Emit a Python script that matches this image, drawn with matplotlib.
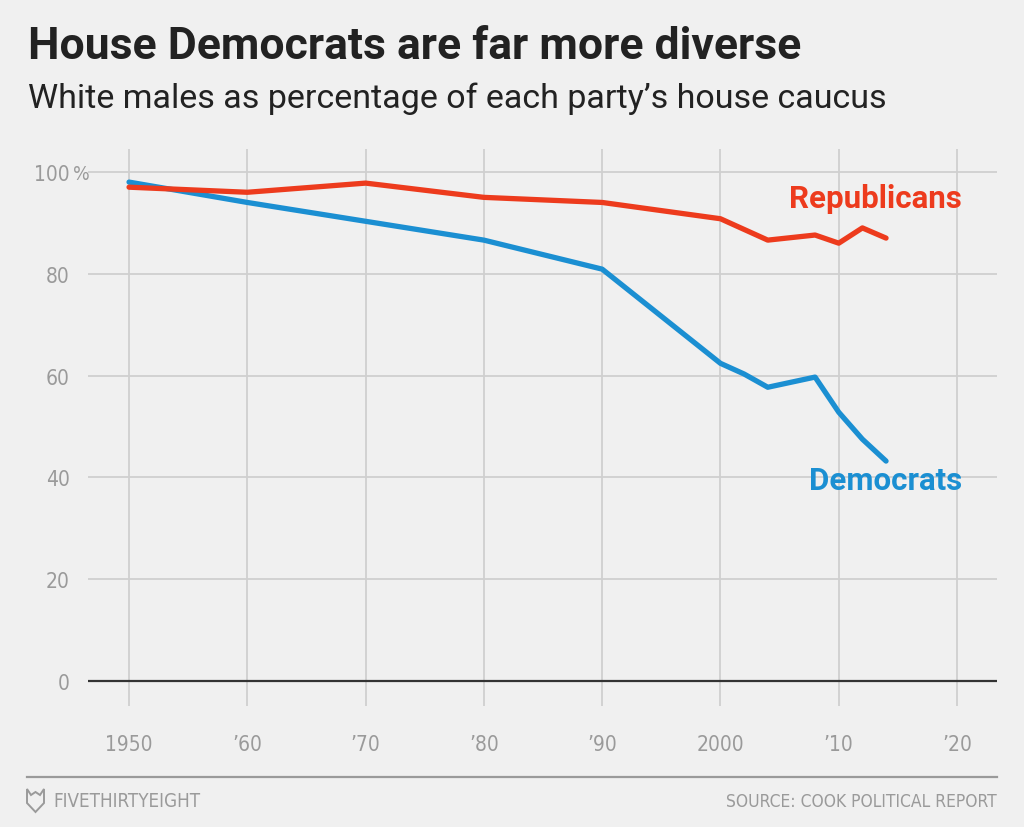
import matplotlib.pyplot as plt
from matplotlib.lines import Line2D
from matplotlib.patches import Polygon

# data
rep_years = [1950, 1960, 1970, 1980, 1990, 2000, 2004, 2008, 2010, 2012, 2014]
rep_share = [97.0, 96.0, 97.8, 95.0, 94.0, 90.8, 86.6, 87.6, 86.0, 89.0, 87.0]

dem_years = [1950, 1960, 1970, 1980, 1990, 2000, 2002, 2004, 2008, 2010, 2012, 2014]
dem_share = [98.0, 94.0, 90.3, 86.6, 80.9, 62.4, 60.3, 57.7, 59.7, 52.8, 47.5, 43.2]

x_ticks = [1950, 1960, 1970, 1980, 1990, 2000, 2010, 2020]
x_labels = ['1950', "\u201960", "\u201970", "\u201980", "\u201990", '2000', "\u201910", "\u201920"]
y_ticks = [0, 20, 40, 60, 80, 100]
y_labels = ['0', '20', '40', '60', '80', '100']

bg = '#f0f0f0'
red = '#ed3b1d'
blue = '#1b8fd2'
tick_font = dict(family='DejaVu Sans', stretch='condensed', color='#9a9a9a')

fig = plt.figure(figsize=(10.24, 8.28), dpi=100, facecolor=bg)
ax = fig.add_axes([88 / 1024, 1 - 707 / 828, (997 - 88) / 1024, (707 - 150) / 828])
ax.set_facecolor(bg)

ax.set_xlim(1946.53, 2023.38)
ax.set_ylim(-4.91, 104.5)

for x in x_ticks:
    ax.axvline(x, color='#cfcfcf', lw=1.3, zorder=1)
for y in y_ticks[1:]:
    ax.axhline(y, color='#cfcfcf', lw=1.3, zorder=1)
ax.axhline(0, color='#333333', lw=1.6, zorder=2)

ax.plot(dem_years, dem_share, color=blue, lw=3.8, solid_capstyle='round', solid_joinstyle='round', zorder=3)
ax.plot(rep_years, rep_share, color=red, lw=3.8, solid_capstyle='round', solid_joinstyle='round', zorder=4)

ax.set_xticks(x_ticks)
ax.set_xticklabels(x_labels, fontsize=15, **tick_font)
ax.set_yticks(y_ticks)
ax.set_yticklabels(y_labels, fontsize=15, **tick_font)
ax.tick_params(axis='x', length=0, pad=20)
ax.tick_params(axis='y', length=0, pad=13)
for s in ax.spines.values():
    s.set_visible(False)

fig.text(73 / 1024, 1 - 174 / 828, '%', fontsize=14, va='center', ha='left', **tick_font)

ax.text(2020.4, 94.9, 'Republicans', color=red, fontsize=22.5, fontweight='bold',
        family='Roboto', ha='right', va='center')
ax.text(2020.4, 39.5, 'Democrats', color=blue, fontsize=22.5, fontweight='bold',
        family='Roboto', ha='right', va='center')

fig.text(28 / 1024, 1 - 47 / 828, 'House Democrats are far more diverse', fontsize=32,
         fontweight='bold', family='Roboto', color='#222222', va='center', ha='left')
fig.text(28 / 1024, 1 - 99 / 828, 'White males as percentage of each party\u2019s house caucus',
         fontsize=24.5, family='Roboto', color='#222222', va='center', ha='left')

# footer
fig.add_artist(Line2D([27 / 1024, 997 / 1024], [1 - 778 / 828, 1 - 778 / 828],
                      color='#9a9a9a', lw=1.6, transform=fig.transFigure))
fox = [(27, 790), (31, 796), (35.5, 793), (40, 796), (44, 790), (44, 804), (35.5, 813), (27, 804)]
fig.add_artist(Polygon([(x / 1024, 1 - y / 828) for x, y in fox], closed=True,
                       fill=False, edgecolor='#9a9a9a', lw=1.4, transform=fig.transFigure))
fig.text(53 / 1024, 1 - 802 / 828, 'FIVETHIRTYEIGHT', fontsize=13.5, va='center', ha='left', **tick_font)
fig.text(997 / 1024, 1 - 802 / 828, 'SOURCE: COOK POLITICAL REPORT', fontsize=12.5,
         va='center', ha='right', **tick_font)

fig.savefig('out.png', dpi=100, facecolor=bg)
